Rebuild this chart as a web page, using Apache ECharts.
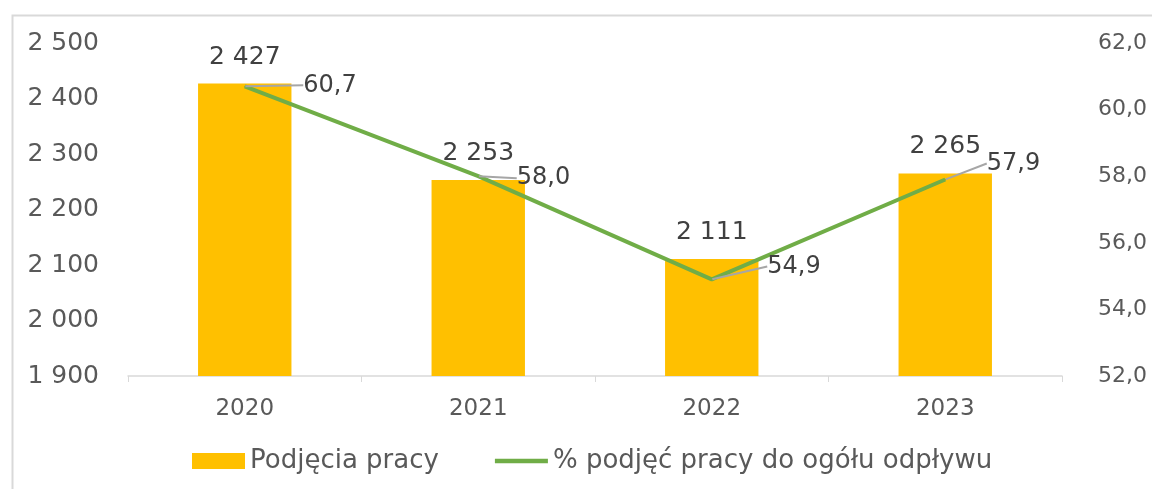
<!DOCTYPE html>
<html>
<head>
<meta charset="utf-8">
<title>Podjęcia pracy</title>
<script src="https://cdn.jsdelivr.net/npm/echarts@6/dist/echarts.min.js"></script>
<style>
    html, body { margin: 0; padding: 0; background: #fff; }
    #chart { width: 1152px; height: 489px; }
</style>
</head>
<body>
<div id="chart"></div>
<script>
var years = ['2020', '2021', '2022', '2023'];
var podjecia = [2427, 2253, 2111, 2265];
var procent = [60.7, 58.0, 54.9, 57.9];
var leftTicks = [1900, 2500, 100];   // min, max, interval
var rightTicks = [52, 62, 2];

// przesunięcia etykiet linii (jak w oryginale, z linią odniesienia)
var lineLabelShift = [[53, -1], [33, 2], [50, -13], [36, -16]];

function thousands(v) {
    return String(v).replace(/\B(?=(\d{3})+(?!\d))/g, ' ');
}
function comma1(v) {
    return Number(v).toFixed(1).replace('.', ',');
}

var font = 'DejaVu Sans';
var myChart = echarts.init(document.getElementById('chart'));

var option = {
    animation: false,
    textStyle: { fontFamily: font },
    graphic: [{
        type: 'rect',
        left: 10,
        top: 13,
        shape: { width: 1300, height: 600 },
        style: { fill: 'none', stroke: '#d9d9d9', lineWidth: 2 },
        silent: true
    }],
    grid: { left: 128, right: 90, top: 43, bottom: 113, outerBoundsMode: 'none' },
    legend: {
        left: 187,
        top: 443,
        itemWidth: 53,
        itemHeight: 16,
        itemGap: 56,
        textStyle: { fontSize: 26, color: '#595959', fontFamily: font },
        data: [
            { name: 'Podjęcia pracy', icon: 'rect' },
            { name: '% podjęć pracy do ogółu odpływu', icon: 'path://M0,0 L56,0 L56,5 L0,5 Z' }
        ]
    },
    xAxis: {
        type: 'category',
        data: years,
        axisLine: { lineStyle: { color: '#d9d9d9', width: 1.5 } },
        axisTick: { show: true, length: 6, lineStyle: { color: '#d9d9d9' } },
        axisLabel: { fontSize: 23, color: '#595959', margin: 22 }
    },
    yAxis: [{
        type: 'value',
        min: leftTicks[0],
        max: leftTicks[1],
        interval: leftTicks[2],
        splitLine: { show: false },
        axisLabel: {
            fontSize: 25, color: '#595959', margin: 29,
            formatter: function (v) { return thousands(v); }
        }
    }, {
        type: 'value',
        min: rightTicks[0],
        max: rightTicks[1],
        interval: rightTicks[2],
        splitLine: { show: false },
        axisLabel: {
            fontSize: 22, color: '#595959', margin: 36,
            formatter: function (v) { return comma1(v); }
        }
    }],
    series: [{
        name: 'Podjęcia pracy',
        type: 'bar',
        data: podjecia,
        barWidth: '40%',
        itemStyle: { color: '#FFC000' },
        label: {
            show: true,
            position: 'top',
            distance: 14,
            fontSize: 25,
            color: '#404040',
            formatter: function (p) { return thousands(p.value); }
        }
    }, {
        name: '% podjęć pracy do ogółu odpływu',
        type: 'line',
        yAxisIndex: 1,
        data: procent,
        symbol: 'circle',
        symbolSize: 1,
        showSymbol: true,
        lineStyle: { color: '#70AD47', width: 4 },
        itemStyle: { color: '#70AD47' },
        label: {
            show: true,
            position: 'right',
            distance: 5,
            fontSize: 24,
            color: '#404040',
            formatter: function (p) { return comma1(p.value); }
        },
        labelLine: {
            show: true,
            lineStyle: { color: '#a6a6a6', width: 2 }
        },
        labelLayout: function (params) {
            var s = lineLabelShift[params.dataIndex];
            return { dx: s[0], dy: s[1] };
        }
    }]
};

myChart.setOption(option);
window.addEventListener('resize', function () {
    myChart.resize();
});
</script>
</body>
</html>
